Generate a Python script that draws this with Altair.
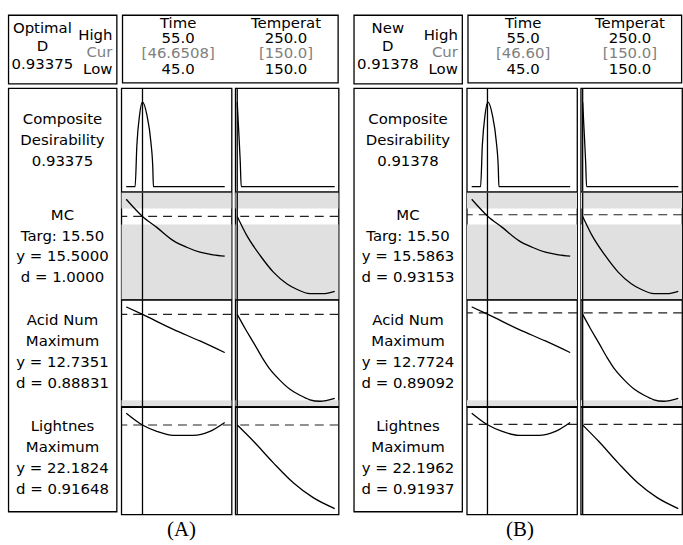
import altair as alt
import pandas as pd

# ---------------- data ----------------
FACTORS = ["Time", "Temperat"]
HIGH = ["55.0", "250.0"]
LOW = ["45.0", "150.0"]
LEVELS = ["High", "Cur", "Low"]
CUR_TEXT_A = ["[46.6508]", "[150.0]"]
CUR_TEXT_B = ["[46.60]", "[150.0]"]
CUR_VALUE_A = [46.6508, 150.0]
CUR_VALUE_B = [46.60, 150.0]
D_HEAD_A = "Optimal\nD\n0.93375"
D_HEAD_B = "New\nD\n0.91378"

RESPONSES = ["Composite", "MC", "Acid Num", "Lightnes"]
LABELS_A = [
    "Composite\nDesirability\n0.93375",
    "MC\nTarg: 15.50\ny = 15.5000\nd = 1.0000",
    "Acid Num\nMaximum\ny = 12.7351\nd = 0.88831",
    "Lightnes\nMaximum\ny = 22.1824\nd = 0.91648",
]
LABELS_B = [
    "Composite\nDesirability\n0.91378",
    "MC\nTarg: 15.50\ny = 15.5863\nd = 0.93153",
    "Acid Num\nMaximum\ny = 12.7724\nd = 0.89092",
    "Lightnes\nMaximum\ny = 22.1962\nd = 0.91937",
]
Y_CUR_A = [None, 15.5, 12.7351, 22.1824]
Y_CUR_B = [None, 15.5863, 12.7724, 22.1962]

# response axis ranges (per row) and factor ranges (per column)
Y_DOMAINS = [[-0.055, 1.088], [11.35, 16.7], [10.425, 13.1], [19.93, 22.63]]
X_DOMAINS = [[44.5, 55.7], [148.0, 254.0]]

# shaded (unacceptable) response bands per row: (low, high)
SHADE_MC = [(15.9, 16.7), (11.35, 15.1)]
SHADE_ACID = [(10.425, 10.575)]

# curves: response vs Time (col 1) and vs Temperat (col 2)
COMP_TIME_X = [45.0, 45.9, 46.08, 46.35, 46.65, 47.1, 47.5, 47.7, 47.76, 55.0]
COMP_TIME_Y = [0, 0, 0.46, 0.79, 0.934, 0.79, 0.495, 0.2, 0, 0]
COMP_TEMP_X = [150, 151.4, 153.1, 154.1, 250]
COMP_TEMP_Y = [0.934, 0.64, 0.275, 0, 0]

MC_TIME_X = [45.0, 46.65, 48.1, 49.78, 51.14, 52.48, 53.82, 55.0]
MC_TIME_Y = [16.365, 15.5, 14.95, 14.285, 13.95, 13.7, 13.565, 13.5]
MC_TEMP_X = [150, 159.9, 173.5, 187.1, 200.8, 211.0, 224.5, 238.1, 250]
MC_TEMP_Y = [15.5, 14.535, 13.535, 12.7, 12.115, 11.835, 11.615, 11.615, 11.735]

ACID_TIME_X = [45.0, 46.65, 49.78, 52.48, 55.0]
ACID_TIME_Y = [12.925, 12.735, 12.3575, 12.0675, 11.775]
ACID_TEMP_X = [150, 158.2, 166.7, 175.6, 183.7, 193.9, 204.1, 214.3, 224.5, 234.7, 250]
ACID_TEMP_Y = [12.735, 12.375, 12.025, 11.65, 11.35, 11.075, 10.85, 10.7, 10.5875, 10.55, 10.625]

LIGHT_TIME_X = [45.0, 46.65, 48.1, 49.78, 51.8, 53.5, 55.0]
LIGHT_TIME_Y = [22.48, 22.1824, 22.0225, 21.9225, 21.9225, 22.0225, 22.2475]
LIGHT_TEMP_X = [150, 166.7, 187.1, 207.5, 227.9, 250]
LIGHT_TEMP_Y = [22.1824, 21.7725, 21.23, 20.73, 20.355, 20.08]

CURVES = [
    [(COMP_TIME_X, COMP_TIME_Y), (COMP_TEMP_X, COMP_TEMP_Y)],
    [(MC_TIME_X, MC_TIME_Y), (MC_TEMP_X, MC_TEMP_Y)],
    [(ACID_TIME_X, ACID_TIME_Y), (ACID_TEMP_X, ACID_TEMP_Y)],
    [(LIGHT_TIME_X, LIGHT_TIME_Y), (LIGHT_TEMP_X, LIGHT_TEMP_Y)],
]
SHADES = [[], SHADE_MC, SHADE_ACID, []]

# ---------------- layout ----------------
FONT = "DejaVu Sans"
ROW_H = [104, 107, 107, 108]
COL1_W = 111
LABEL_W = 109
SW = 1.3
EXT = 1.3  # extra gap that the frame strokes add between neighbouring views
LH = 21


def cell(r, j, width, height, cur_x, y_cur):
    xs, ys = CURVES[r][j]
    xsc = alt.Scale(domain=X_DOMAINS[j], nice=False, zero=False)
    ysc = alt.Scale(domain=Y_DOMAINS[r], nice=False, zero=False)
    layers = []
    if SHADES[r]:
        sdf = pd.DataFrame(SHADES[r], columns=["lo", "hi"])
        layers.append(
            alt.Chart(sdf).mark_rect(color="#e0e0e0", clip=True).encode(
                x=alt.value(0), x2=alt.value("width"),
                y=alt.Y("lo:Q", scale=ysc, axis=None), y2="hi:Q")
        )
    if y_cur is not None:
        layers.append(
            alt.Chart(pd.DataFrame({"v": [y_cur]})).mark_rule(
                color="#222", strokeWidth=1.2, strokeDash=[9, 6], clip=True).encode(
                y=alt.Y("v:Q", scale=ysc, axis=None))
        )
    layers.append(
        alt.Chart(pd.DataFrame({"x": xs, "y": ys})).mark_line(
            color="black", strokeWidth=SW, interpolate="monotone", clip=True).encode(
            x=alt.X("x:Q", scale=xsc, axis=None),
            y=alt.Y("y:Q", scale=ysc, axis=None))
    )
    layers.append(
        alt.Chart(pd.DataFrame({"c": [cur_x]})).mark_rule(
            color="black", strokeWidth=SW, clip=True).encode(
            x=alt.X("c:Q", scale=xsc, axis=None))
    )
    return alt.layer(*layers).properties(width=width, height=height)


def labels_box(labels):
    ysc = alt.Scale(domain=RESPONSES, paddingInner=0, paddingOuter=0)
    layers = []
    for resp, lab in zip(RESPONSES, labels):
        n = lab.count("\n") + 1
        df = pd.DataFrame({"resp": [resp], "text": [lab]})
        layers.append(alt.Chart(df).mark_text(
            font=FONT, fontSize=15, lineBreak="\n", lineHeight=LH,
            baseline="middle", color="black", dy=-(n - 1) * LH / 2 - 1).encode(
            y=alt.Y("resp:N", axis=None, scale=ysc),
            text="text:N"))
    return alt.layer(*layers).properties(width=LABEL_W, height=sum(ROW_H))


def header_left(dhead):
    xsc = alt.Scale(domain=["name", "level"], paddingInner=0, paddingOuter=0)
    names = alt.Chart(pd.DataFrame({"col": ["name"], "text": [dhead]})).mark_text(
        font=FONT, fontSize=15, lineBreak="\n", lineHeight=18,
        baseline="middle", dx=7, dy=-21.5, color="black").encode(
        x=alt.X("col:N", scale=xsc, axis=None), text="text:N")
    ldf = pd.DataFrame({"col": ["level"] * 3, "lvl": LEVELS,
                        "color": ["black", "#808080", "black"]})
    levels = alt.Chart(ldf).mark_text(
        font=FONT, fontSize=15, baseline="middle", align="right", dx=23, dy=3).encode(
        x=alt.X("col:N", scale=xsc, axis=None),
        y=alt.Y("lvl:N", sort=LEVELS, axis=None, scale=alt.Scale(padding=1.3)),
        text="lvl:N", color=alt.Color("color:N", scale=None))
    return alt.layer(names, levels).properties(width=LABEL_W, height=69)


def header_right(cur_text, width):
    rows = []
    for j, f in enumerate(FACTORS):
        items = [(f, "black"), (HIGH[j], "black"), (cur_text[j], "#808080"), (LOW[j], "black")]
        for k, (t, c) in enumerate(items):
            rows.append({"factor": f, "line": k, "text": t, "color": c})
    df = pd.DataFrame(rows)
    return alt.Chart(df).mark_text(
        font=FONT, fontSize=15, baseline="middle", dx=2, dy=-3).encode(
        x=alt.X("factor:N", sort=FACTORS, axis=None,
                scale=alt.Scale(paddingInner=0, paddingOuter=0)),
        y=alt.Y("line:O", axis=None, scale=alt.Scale(padding=0.7)),
        text="text:N", color=alt.Color("color:N", scale=None),
    ).properties(width=width, height=68)


def panel(dhead, cur_text, cur_val, labels, y_cur, col2_w, caption, cap_dx):
    rows = []
    for r, h in enumerate(ROW_H):
        rows.append(alt.hconcat(
            cell(r, 0, COL1_W, h, cur_val[0], y_cur[r]),
            cell(r, 1, col2_w, h, cur_val[1], y_cur[r]),
            spacing=3 - EXT))
    grid = alt.vconcat(*rows, spacing=-EXT)
    body = alt.hconcat(labels_box(labels), grid, spacing=4 - EXT)
    header = alt.hconcat(header_left(dhead),
                         header_right(cur_text, COL1_W + 3 + col2_w - 1),
                         spacing=5 - EXT)
    return alt.vconcat(
        header, body, spacing=4 - EXT,
        title=alt.Title(caption, orient="bottom", anchor="middle", dx=cap_dx,
                        font="Liberation Serif", fontSize=21, fontWeight="normal",
                        color="black", offset=4, baseline="top"))


panel_a = panel(D_HEAD_A, CUR_TEXT_A, CUR_VALUE_A, LABELS_A, Y_CUR_A, 104, "(A)", 8)
panel_b = panel(D_HEAD_B, CUR_TEXT_B, CUR_VALUE_B, LABELS_B, Y_CUR_B, 102, "(B)", 2)

chart = alt.hconcat(panel_a, panel_b, spacing=14 - EXT).properties(
    padding={"left": 7.4, "top": 12.4, "right": 0, "bottom": 0},
    background="white",
).configure_view(stroke="black", strokeWidth=SW)

chart.save("out.html", embed_options={"renderer": "svg", "actions": False})
